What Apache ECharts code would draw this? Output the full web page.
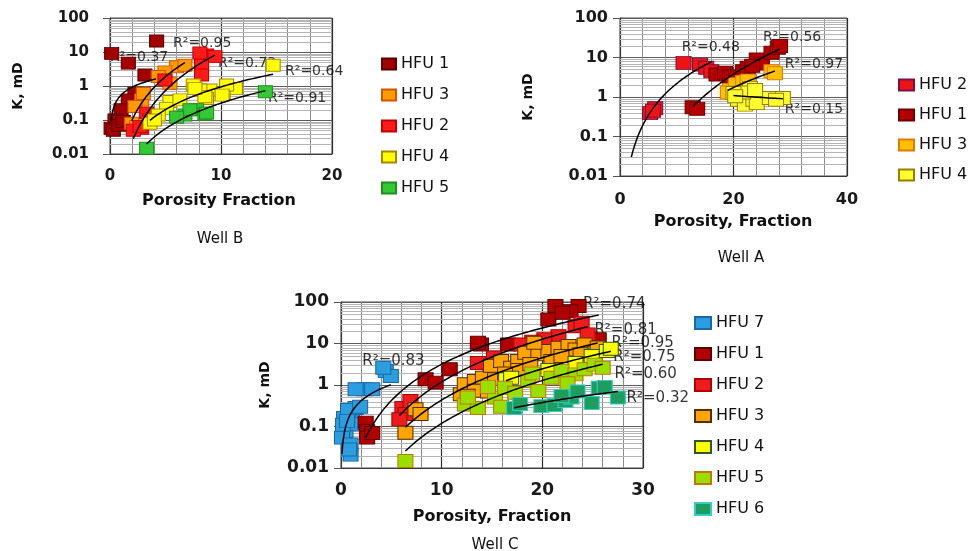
<!DOCTYPE html>
<html>
<head>
<meta charset="utf-8">
<script src="https://cdn.jsdelivr.net/npm/echarts@6/dist/echarts.min.js"></script>
<style>
  html, body { margin: 0; padding: 0; background: #ffffff; }
  #chart { width: 968px; height: 551px; }
</style>
</head>
<body>
<div id="chart"></div>
<script>
// Permeability K (mD) against porosity for the hydraulic flow units (HFU) of three wells.
// Each point is [porosity, K].

// ---- Well B ----
const wellB_HFU1 = [[4.2,21],[0.15,9.1],[1.65,4.7],[3.15,2.1],[2.25,0.61],[1.65,0.39],[1.0,0.2],[0.45,0.1],[0.1,0.057],[0.3,0.05],[0.8,0.07],[1.2,0.09]];
const wellB_HFU3 = [[6.0,3.7],[4.95,2.6],[6.75,4.1],[4.35,1.9],[2.85,0.39],[2.25,0.25],[1.95,0.08],[2.4,0.064],[3.0,0.6],[5.4,1.2]];
const wellB_HFU2 = [[8.7,8.2],[9.45,7.3],[8.25,4.1],[8.25,2.1],[4.95,1.5],[3.3,0.16],[2.85,0.057],[2.1,0.05],[3.6,0.1],[8.1,9.3],[2.7,0.064]];
const wellB_HFU4 = [[14.7,4.1],[11.3,0.85],[10.2,0.6],[10.5,1.07],[9.0,0.76],[8.1,0.76],[7.5,1.07],[8.7,0.43],[10.1,0.54],[8.55,0.48],[7.65,0.85],[5.4,0.35],[5.1,0.22],[4.35,0.14],[3.6,0.08],[6.3,0.39],[4.0,0.1]];
const wellB_HFU5 = [[3.3,0.0148],[6.75,0.14],[7.8,0.2],[8.55,0.15],[8.7,0.16],[7.2,0.2],[14.0,0.68],[6.0,0.12]];
const wellB_R2 = ['0.95','0.37','0.73','0.64','0.91'];

// ---- Well A ----
const wellA_HFU2 = [[5.3,0.39],[6.2,0.52],[5.8,0.45],[11.2,7.3],[14.1,6.6],[15.2,5.5],[16.1,4.5]];
const wellA_HFU1 = [[12.8,0.55],[13.6,0.5],[17.0,3.7],[18.5,4.1],[19.4,3.3],[20.5,3.3],[21.7,4.5],[22.5,5.5],[24.1,8.9],[25.0,7.0],[26.7,13.2],[27.8,17.6],[28.2,19.5],[23.3,6.2]];
const wellA_HFU3 = [[26.7,4.5],[19.4,1.5],[20.4,2.1],[21.7,2.4],[19.0,1.3],[22.5,2.6],[27.3,4.0]];
const wellA_HFU4 = [[20.8,0.85],[22.0,0.64],[23.5,0.85],[24.1,0.7],[22.9,1.7],[26.4,0.94],[28.7,0.94],[21.7,1.3],[20.0,1.26],[23.8,1.5],[27.5,0.85],[20.3,1.05]];
const wellA_R2 = ['0.48','0.56','0.97','0.15'];

// ---- Well C ----
const wellC_HFU7 = [[4.45,2.17],[4.95,1.65],[4.2,2.6],[2.3,0.79],[3.1,0.79],[1.45,0.79],[1.1,0.2],[0.3,0.16],[0.45,0.078],[0.1,0.054],[0.95,0.037],[0.95,0.021],[1.45,0.113],[1.45,0.28],[0.2,0.11],[0.7,0.25],[1.9,0.3],[0.6,0.135],[0.8,0.028]];
const wellC_HFU1 = [[2.45,0.124],[2.6,0.077],[2.6,0.054],[3.1,0.07],[8.4,1.37],[9.4,1.14],[10.8,2.4],[13.9,9.5],[16.6,9.5],[20.6,38],[21.3,80],[23.6,80],[22.8,60],[13.6,10.4],[25.6,12.6],[19.7,10],[22.0,55]];
const wellC_HFU2 = [[6.1,0.28],[6.4,0.2],[6.9,0.41],[5.8,0.15],[21.6,15],[23.3,26],[23.9,31.6],[20.2,12.6],[19.0,11],[17.9,9.5],[24.5,16.6],[13.6,3.4],[15.2,4.6]];
const wellC_HFU3 = [[7.4,0.26],[7.9,0.2],[6.4,0.071],[11.9,0.6],[12.3,1.04],[13.3,1.25],[14.1,1.5],[14.9,2.9],[15.9,3.8],[15.3,1.37],[16.9,2.6],[17.6,3.8],[18.3,6],[19.6,5.5],[20.6,6.6],[21.6,7.9],[22.6,8.7],[23.3,7.2],[24.2,9.5],[25.2,6],[25.5,8],[13.3,0.73],[17.6,2.3],[20.9,3.8],[14.6,0.7],[19.2,10.4],[12.6,0.55],[16.3,1.9],[21.9,5],[23.8,5.5],[18.8,3.2]];
const wellC_HFU4 = [[16.4,1.37],[26.4,6.6],[16.9,1.5],[23.3,3.4],[24.9,5],[20.6,2.3],[26.8,7.5]];
const wellC_HFU5 = [[12.3,0.34],[13.6,0.28],[15.3,0.5],[16.3,0.86],[17.3,0.65],[18.6,1.25],[19.6,0.72],[20.9,1.5],[21.9,2.2],[23.3,1.8],[24.2,2.4],[25.2,3.1],[6.4,0.0147],[14.6,0.9],[12.6,0.5],[15.9,0.3],[19.0,1.9],[22.5,1.1],[26.0,2.6]];
const wellC_HFU6 = [[17.2,0.28],[19.9,0.31],[21.2,0.33],[22.3,0.41],[22.9,0.5],[24.9,0.37],[25.6,0.86],[26.2,0.9],[27.5,0.5],[21.9,0.54],[23.5,0.7],[17.8,0.35]];
const wellC_R2 = ['0.83','0.74','0.81','0.95','0.75','0.60','0.32'];

// Axis tick values
const xTicksB = [0, 10, 20];
const xTicksA = [0, 20, 40];
const xTicksC = [0, 10, 20, 30];
const kTicks = [0.01, 0.1, 1, 10, 100];

const FONT = 'DejaVu Sans';

// Panel layout and styling
const panels = [
  {
    key: 'B', title: 'Well B', xTitle: 'Porosity Fraction', xTicks: xTicksB,
    grid: { left: 110, top: 18, width: 222, height: 136 },
    tickFont: 15, labelMarginX: 15, labelMarginY: 21, symbolSize: [14, 12], r2Font: 14,
    legend: { left: 376, top: 51, itemGap: 15, itemWidth: 14, itemHeight: 11, fontSize: 16 },
    yTitleAt: [18, 86], xTitleAt: [219, 201], wellAt: [220, 239],
    groups: [
      { hfu: 'HFU 1', data: wellB_HFU1, color: '#a30000', border: '#5a0000' },
      { hfu: 'HFU 3', data: wellB_HFU3, color: '#ff9a00', border: '#d45500' },
      { hfu: 'HFU 2', data: wellB_HFU2, color: '#ff1a1a', border: '#c40000' },
      { hfu: 'HFU 4', data: wellB_HFU4, color: '#ffff00', border: '#a88600' },
      { hfu: 'HFU 5', data: wellB_HFU5, color: '#35c835', border: '#1f8f1f' }
    ],
    r2: wellB_R2,
    r2At: [[5.68, 18.4], [0.0, 7.1], [9.73, 4.65], [15.77, 2.64], [14.23, 0.435]]
  },
  {
    key: 'A', title: 'Well A', xTitle: 'Porosity, Fraction', xTicks: xTicksA,
    grid: { left: 620, top: 18, width: 227, height: 158 },
    tickFont: 16, labelMarginX: 16, labelMarginY: 12, symbolSize: [15, 13], r2Font: 14,
    legend: { left: 893, top: 72, itemGap: 14, itemWidth: 15, itemHeight: 11, fontSize: 16 },
    yTitleAt: [528, 97], xTitleAt: [733, 222], wellAt: [741, 258],
    groups: [
      { hfu: 'HFU 2', data: wellA_HFU2, color: '#ee1414', border: '#7a1048', trendFrom: 2.0 },
      { hfu: 'HFU 1', data: wellA_HFU1, color: '#b40000', border: '#6e0000' },
      { hfu: 'HFU 3', data: wellA_HFU3, color: '#ffc000', border: '#e07a00' },
      { hfu: 'HFU 4', data: wellA_HFU4, color: '#ffff30', border: '#9c7c00' }
    ],
    r2: wellA_R2,
    r2At: [[10.86, 17.7], [25.2, 31.7], [29.05, 6.64], [29.05, 0.475]]
  },
  {
    key: 'C', title: 'Well C', xTitle: 'Porosity, Fraction', xTicks: xTicksC,
    grid: { left: 341, top: 302, width: 302, height: 166 },
    tickFont: 17, labelMarginX: 14, labelMarginY: 12, symbolSize: [15, 13], r2Font: 15,
    legend: { left: 689, top: 310, itemGap: 15, itemWidth: 16, itemHeight: 12, fontSize: 16 },
    yTitleAt: [265, 385], xTitleAt: [492, 517], wellAt: [495, 545],
    groups: [
      { hfu: 'HFU 7', data: wellC_HFU7, color: '#2b9ee0', border: '#1a68a8' },
      { hfu: 'HFU 1', data: wellC_HFU1, color: '#b00000', border: '#5e0000' },
      { hfu: 'HFU 2', data: wellC_HFU2, color: '#ee1c1c', border: '#b00000' },
      { hfu: 'HFU 3', data: wellC_HFU3, color: '#ffa500', border: '#5a2d00' },
      { hfu: 'HFU 4', data: wellC_HFU4, color: '#ffff00', border: '#2e5a1e' },
      { hfu: 'HFU 5', data: wellC_HFU5, color: '#9ade00', border: '#c07800' },
      { hfu: 'HFU 6', data: wellC_HFU6, color: '#1e9e5e', border: '#35cccc' }
    ],
    r2: wellC_R2,
    r2At: [[2.11, 3.79], [24.05, 88], [25.17, 20.8], [26.87, 10.5], [27.04, 4.73], [27.17, 1.87], [28.37, 0.494]]
  }
];

// Power-law trendline K = a * phi^b, least squares on ln K vs ln phi
function fitPower(pts) {
  const p = pts.filter(d => d[0] > 0 && d[1] > 0);
  const n = p.length;
  let sx = 0, sy = 0, sxx = 0, sxy = 0;
  p.forEach(([x, y]) => {
    const lx = Math.log(x), ly = Math.log(y);
    sx += lx; sy += ly; sxx += lx * lx; sxy += lx * ly;
  });
  const b = (n * sxy - sx * sy) / (n * sxx - sx * sx);
  const a = Math.exp((sy - b * sx) / n);
  return { a, b };
}

function trendPoints(g) {
  const { a, b } = fitPower(g.data);
  const xs = g.data.map(d => d[0]).filter(x => x > 0);
  const x0 = g.trendFrom !== undefined ? g.trendFrom : Math.min(...xs);
  const x1 = Math.max(...xs);
  const out = [];
  const steps = 80;
  for (let i = 0; i <= steps; i++) {
    const x = x0 + (x1 - x0) * i / steps;
    out.push([x, a * Math.pow(x, b)]);
  }
  return out;
}

// Minor log gridlines at 2..9 within each decade
const minorK = [];
for (let e = -2; e < 2; e++) {
  for (let m = 2; m <= 9; m++) minorK.push(m * Math.pow(10, e));
}

function kLabel(v) {
  if (v >= 1) return String(Math.round(v));
  return String(+v.toPrecision(1));
}

const grids = [], xAxes = [], yAxes = [], series = [], legends = [], graphics = [];

panels.forEach((p, i) => {
  grids.push(Object.assign({ show: true, borderColor: '#4a4a4a', borderWidth: 1, backgroundColor: '#ffffff', containLabel: false }, p.grid));

  const xMax = p.xTicks[p.xTicks.length - 1];
  const xStep = p.xTicks[1] - p.xTicks[0];
  xAxes.push({
    type: 'value', gridIndex: i, min: p.xTicks[0], max: xMax, interval: xStep,
    axisLine: { show: true, lineStyle: { color: '#3a3a3a', width: 1 } },
    axisTick: { show: false },
    axisLabel: { fontFamily: FONT, fontWeight: 'bold', fontSize: p.tickFont, color: '#1a1a1a', margin: p.labelMarginX },
    splitLine: { show: true, lineStyle: { color: '#2e2e2e', width: 1.2 } },
    minorTick: { show: false, splitNumber: 5 },
    minorSplitLine: { show: true, lineStyle: { color: '#8c8c8c', width: 1 } }
  });

  yAxes.push({
    type: 'log', logBase: 10, gridIndex: i, min: kTicks[0], max: kTicks[kTicks.length - 1],
    axisLine: { show: true, lineStyle: { color: '#3a3a3a', width: 1 } },
    axisTick: { show: true, length: 7, lineStyle: { color: '#555555' } },
    axisLabel: { fontFamily: FONT, fontWeight: 'bold', fontSize: p.tickFont, color: '#1a1a1a', margin: p.labelMarginY, formatter: kLabel },
    splitLine: { show: true, lineStyle: { color: '#5c5c5c', width: 1.2 } }
  });

  // light minor lines across the plot
  series.push({
    type: 'custom', xAxisIndex: i, yAxisIndex: i, z: 1, silent: true,
    data: minorK.map(v => [p.xTicks[0], v]),
    encode: { x: 0, y: 1 },
    renderItem: (params, api) => {
      const cs = params.coordSys;
      const pt = api.coord([api.value(0), api.value(1)]);
      const y = Math.round(pt[1]) + 0.5;
      return {
        type: 'line',
        shape: { x1: cs.x, y1: y, x2: cs.x + cs.width, y2: y },
        style: { stroke: '#b4b4b4', lineWidth: 1 },
        silent: true
      };
    }
  });

  // R² annotations, beneath the markers
  series.push({
    type: 'scatter', xAxisIndex: i, yAxisIndex: i, z: 1.5, silent: true, clip: false,
    symbolSize: 0,
    data: p.r2.map((r, j) => ({ name: 'R\u00B2=' + r, value: p.r2At[j] })),
    label: {
      show: true, position: 'right', distance: 0, formatter: '{b}',
      fontFamily: FONT, fontSize: p.r2Font, color: '#000000'
    }
  });

  p.groups.forEach(g => {
    const name = p.key + '|' + g.hfu;
    series.push({
      name, type: 'scatter', xAxisIndex: i, yAxisIndex: i, z: 2, clip: false,
      symbol: 'rect', symbolSize: p.symbolSize, data: g.data,
      itemStyle: { color: g.color, borderColor: g.border, borderWidth: 1, opacity: 1 }
    });
  });

  p.groups.forEach(g => {
    series.push({
      type: 'line', xAxisIndex: i, yAxisIndex: i, z: 3, silent: true,
      showSymbol: false, symbol: 'none', data: trendPoints(g),
      lineStyle: { color: '#000000', width: 1.5 }
    });
  });

  legends.push({
    orient: 'vertical', left: p.legend.left, top: p.legend.top,
    itemGap: p.legend.itemGap, itemWidth: p.legend.itemWidth, itemHeight: p.legend.itemHeight,
    icon: 'rect', selectedMode: false,
    data: p.groups.map(g => p.key + '|' + g.hfu),
    formatter: n => n.split('|')[1],
    textStyle: { fontFamily: FONT, fontSize: p.legend.fontSize, color: '#111111', padding: [0, 0, 0, 0] }
  });

  graphics.push({
    type: 'text', x: p.yTitleAt[0], y: p.yTitleAt[1], rotation: Math.PI / 2,
    style: { text: 'K, mD', font: 'bold 14px "DejaVu Sans"', fill: '#111111', textAlign: 'center', textVerticalAlign: 'middle' }
  });
  graphics.push({
    type: 'text', x: p.xTitleAt[0], y: p.xTitleAt[1],
    style: { text: p.xTitle, font: 'bold 16px "DejaVu Sans"', fill: '#111111', textAlign: 'center', textVerticalAlign: 'middle' }
  });
  graphics.push({
    type: 'text', x: p.wellAt[0], y: p.wellAt[1],
    style: { text: p.title, font: '15px "DejaVu Sans"', fill: '#111111', textAlign: 'center', textVerticalAlign: 'middle' }
  });
});

const chart = echarts.init(document.getElementById('chart'), null, { renderer: 'canvas' });
chart.setOption({
  animation: false,
  backgroundColor: '#ffffff',
  grid: grids,
  xAxis: xAxes,
  yAxis: yAxes,
  legend: legends,
  series: series,
  graphic: graphics
});
</script>
</body>
</html>
